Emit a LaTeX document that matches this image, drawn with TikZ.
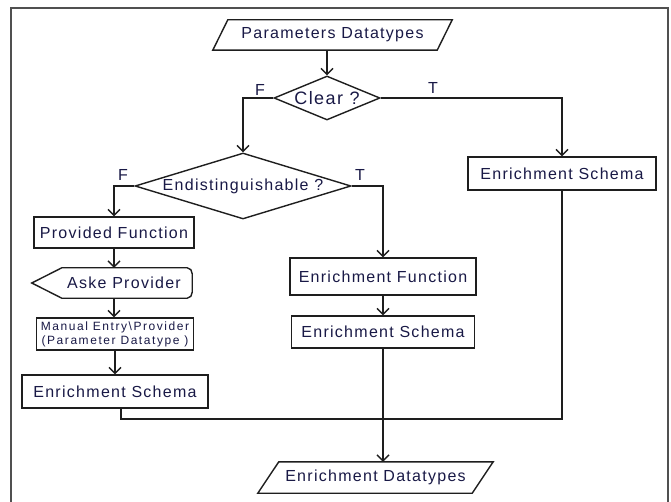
\documentclass[tikz,border=0pt]{standalone}
\usepackage{fontspec}
\setmainfont{Liberation Sans}[LetterSpace=8]
\newfontfamily\smallsp{Liberation Sans}[LetterSpace=13]
\usetikzlibrary{arrows.meta,shapes.geometric}
\definecolor{txt}{RGB}{25,25,70}
\definecolor{linec}{RGB}{30,30,30}
\definecolor{framec}{RGB}{80,80,80}
\tikzset{
  box/.style={draw=linec,line width=1.4pt,rectangle,inner sep=0pt,text=txt,font=\fontsize{16}{19}\selectfont},
  plain/.style={rectangle,inner sep=0pt,text=txt,font=\fontsize{16}{19}\selectfont},
  dia/.style={draw=linec,line width=1.4pt,diamond,inner sep=0pt,text=txt,font=\fontsize{16}{19}\selectfont},
  arr/.style={-{Straight Barb[length=6pt,width=12pt]},line width=1.4pt,draw=linec},
  ln/.style={line width=1.4pt,draw=linec,line join=miter},
  lbl/.style={inner sep=0pt,text=txt,font=\fontsize{16}{19}\selectfont},
}
\begin{document}
\begin{tikzpicture}[x=1pt,y=-1pt]
\useasboundingbox (0,0) rectangle (671,502);
\fill[white] (0,0) rectangle (671,502);
\draw[framec,line width=2pt] (11,502) -- (11,8) -- (668,8) -- (668,502);

% nodes
\node[plain,minimum width=224pt,minimum height=30pt] (pd) at (332.5,35) {Parameters Datatypes};
\draw[ln] ([xshift=-7.5pt]pd.south west) -- ([xshift=7.5pt]pd.north west) -- ([xshift=7.5pt]pd.north east) -- ([xshift=-7.5pt]pd.south east) -- cycle;

\node[dia,minimum width=106pt,minimum height=44pt,shape aspect=2.4,font=\fontsize{18}{21}\selectfont] (clear) at (327,98) {Clear ?};
\node[dia,minimum width=216pt,minimum height=66pt,shape aspect=3.3] (endist) at (243,186) {Endistinguishable ?};

\node[box,minimum width=188pt,minimum height=33pt] (esR) at (562,173.5) {Enrichment Schema};
\node[box,minimum width=160pt,minimum height=31pt] (pf) at (114,232.5) {Provided Function};
\node[box,minimum width=186pt,minimum height=37pt] (ef) at (383,276.5) {Enrichment Function};
\node[box,minimum width=183pt,minimum height=32pt] (esM) at (383,332) {Enrichment Schema};

\node[plain,minimum width=136pt,minimum height=30pt] (ask) at (124,283) {Aske Provider};
\draw[ln] ([xshift=-24pt]ask.west) -- ([xshift=6pt]ask.north west) -- ([xshift=-5pt]ask.north east) to[out=0,in=90] ([yshift=-6pt]ask.north east) -- ([yshift=6pt]ask.south east) to[out=-90,in=0] ([xshift=-5pt]ask.south east) -- ([xshift=6pt]ask.south west) -- cycle;

\node[box,minimum width=157pt,minimum height=32pt,align=center,font=\smallsp\fontsize{12}{14}\selectfont] (me) at (115,334) {Manual Entry\textbackslash Provider\\(Parameter Datatype )};
\node[box,minimum width=186pt,minimum height=33pt] (esL) at (115,391.5) {Enrichment Schema};

\node[plain,minimum width=214pt,minimum height=31pt] (ed) at (375.5,477.5) {Enrichment Datatypes};
\draw[ln] ([xshift=-10.5pt]ed.south west) -- ([xshift=10.5pt]ed.north west) -- ([xshift=10.5pt]ed.north east) -- ([xshift=-10.5pt]ed.south east) -- cycle;

% labels
\node[lbl] (f1) at (260,90) {F};
\node[lbl] (t1) at (433,88) {T};
\node[lbl] (f2) at (123,175) {F};
\node[lbl] (t2) at (360,175) {T};

% connectors
\coordinate (bus) at (0,419);
\draw[arr] (clear.north |- pd.south) -- (clear.north);
\draw[arr] (clear.west) -| (endist.north);
\draw[arr] (clear.east) -| (esR.north);
\draw[arr] (endist.west) -| (pf.north);
\draw[arr] (endist.east) -| (ef.north);
\draw[arr] (pf.south) -- (pf.south |- ask.north);
\draw[arr] (pf.south |- ask.south) -- (pf.south |- me.north);
\draw[arr] (me.south) -- (me.south |- esL.north);
\draw[arr] (ef.south) -- (ef.south |- esM.north);
\draw[arr] (esM.south) -- (esM.south |- ed.north);
\draw[ln] ([xshift=6pt]esL.south) |- (bus -| esR.south) -- (esR.south);
\end{tikzpicture}
\end{document}
